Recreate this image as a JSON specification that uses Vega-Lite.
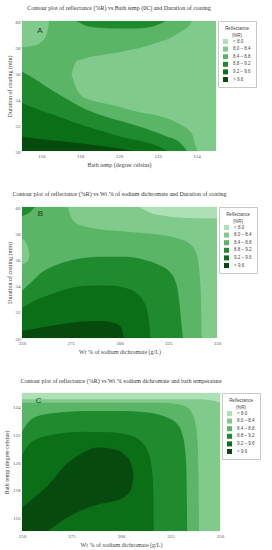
{
"$schema": "https://vega.github.io/schema/vega-lite/v6.json",
"padding": {"left": 3, "top": 4, "right": 0, "bottom": 0},
"background": "white",
"spacing": 22,
"resolve": {"scale": {"color": "independent"}, "legend": {"color": "independent"}},
"config": {
 "view": {"stroke": "#d8d8d8", "strokeWidth": 0.5},
 "axis": {"labelFont": "Liberation Serif", "labelFontSize": 5, "labelColor": "#555", "titleFont": "Liberation Serif", "titleFontSize": 6, "titleFontWeight": "normal", "titleColor": "#444", "ticks": false, "domain": false, "grid": false, "labelPadding": 2, "titlePadding": 3, "labelOverlap": false, "labelBound": false, "labelFlush": false},
 "title": {"font": "Liberation Serif", "fontSize": 6, "fontWeight": "normal", "color": "#333", "offset": 8, "anchor": "middle"},
 "legend": {"orient": "right", "offset": 2, "strokeColor": "#c8c8c8", "fillColor": "white", "padding": 5, "titleFont": "Liberation Sans", "titleFontSize": 4.5, "titleFontWeight": "normal", "titleColor": "#444", "titleAlign": "center", "titleAnchor": "middle", "titlePadding": 2, "labelFont": "Liberation Sans", "labelFontSize": 4.5, "labelColor": "#444", "symbolType": "square", "symbolSize": 25, "symbolStrokeWidth": 0, "rowPadding": 1.6, "labelOffset": 5,
  "labelExpr": "(datum.label == '< 8.0' ? '\u00a0\u00a0\u00a0\u00a0\u00a0\u00a0< 8.0' : datum.label == '> 9.6' ? '\u00a0\u00a0\u00a0\u00a0\u00a0\u00a0> 9.6' : datum.label) + '\u00a0\u00a0\u00a0\u00a0\u00a0\u00a0\u00a0'"}
},
"vconcat": [
{
 "width": 194, "height": 130,
 "title": {"text": "Contour plot of reflectance (%R) vs Bath temp (0C) and  Duration of coating"},
 "data": {"values": [
  {"r":"A0","lv":"8.4 – 8.8","x":115,"lo":50,"hi":60},{"r":"A0","lv":"8.4 – 8.8","x":125,"lo":50,"hi":60},
  {"r":"A1","lv":"8.0 – 8.4","x":117.55,"lo":55.9,"hi":55.9},{"r":"A1","lv":"8.0 – 8.4","x":117.8,"lo":54.8,"hi":56.9},{"r":"A1","lv":"8.0 – 8.4","x":118.1,"lo":54.2,"hi":57.05},{"r":"A1","lv":"8.0 – 8.4","x":118.4,"lo":54.0,"hi":57.2},{"r":"A1","lv":"8.0 – 8.4","x":118.8,"lo":53.8,"hi":57.3},{"r":"A1","lv":"8.0 – 8.4","x":119.6,"lo":53.55,"hi":57.5},{"r":"A1","lv":"8.0 – 8.4","x":120.0,"lo":53.4,"hi":57.6},{"r":"A1","lv":"8.0 – 8.4","x":121.0,"lo":53.0,"hi":57.9},{"r":"A1","lv":"8.0 – 8.4","x":122.3,"lo":52.6,"hi":58.5},{"r":"A1","lv":"8.0 – 8.4","x":122.5,"lo":52.5,"hi":58.6},{"r":"A1","lv":"8.0 – 8.4","x":123.2,"lo":52.0,"hi":59.2},{"r":"A1","lv":"8.0 – 8.4","x":123.6,"lo":51.6,"hi":59.6},{"r":"A1","lv":"8.0 – 8.4","x":123.8,"lo":51.2,"hi":60},{"r":"A1","lv":"8.0 – 8.4","x":123.9,"lo":50.6,"hi":60},{"r":"A1","lv":"8.0 – 8.4","x":124.1,"lo":50,"hi":60},{"r":"A1","lv":"8.0 – 8.4","x":125,"lo":50,"hi":60},
  {"r":"A2","lv":"8.0 – 8.4","x":115,"lo":58.0,"hi":60},{"r":"A2","lv":"8.0 – 8.4","x":115.6,"lo":58.1,"hi":60},{"r":"A2","lv":"8.0 – 8.4","x":116.0,"lo":58.4,"hi":60},{"r":"A2","lv":"8.0 – 8.4","x":116.25,"lo":58.9,"hi":60},{"r":"A2","lv":"8.0 – 8.4","x":116.35,"lo":59.5,"hi":60},{"r":"A2","lv":"8.0 – 8.4","x":116.4,"lo":60,"hi":60},
  {"r":"A3","lv":"8.8 – 9.2","x":117.8,"lo":60,"hi":60},{"r":"A3","lv":"8.8 – 9.2","x":118.2,"lo":59.7,"hi":60},{"r":"A3","lv":"8.8 – 9.2","x":118.8,"lo":59.5,"hi":60},{"r":"A3","lv":"8.8 – 9.2","x":120.0,"lo":59.42,"hi":60},{"r":"A3","lv":"8.8 – 9.2","x":121.2,"lo":59.45,"hi":60},{"r":"A3","lv":"8.8 – 9.2","x":121.9,"lo":59.65,"hi":60},{"r":"A3","lv":"8.8 – 9.2","x":122.4,"lo":60,"hi":60},
  {"r":"A4","lv":"8.8 – 9.2","x":115,"lo":50,"hi":56.1},{"r":"A4","lv":"8.8 – 9.2","x":115.5,"lo":50,"hi":55.7},{"r":"A4","lv":"8.8 – 9.2","x":116.3,"lo":50,"hi":54.9},{"r":"A4","lv":"8.8 – 9.2","x":117.3,"lo":50,"hi":54.0},{"r":"A4","lv":"8.8 – 9.2","x":118.3,"lo":50,"hi":53.2},{"r":"A4","lv":"8.8 – 9.2","x":119.2,"lo":50,"hi":52.7},{"r":"A4","lv":"8.8 – 9.2","x":120.1,"lo":50,"hi":52.3},{"r":"A4","lv":"8.8 – 9.2","x":121.0,"lo":50,"hi":51.9},{"r":"A4","lv":"8.8 – 9.2","x":121.8,"lo":50,"hi":51.5},{"r":"A4","lv":"8.8 – 9.2","x":122.5,"lo":50,"hi":51.1},{"r":"A4","lv":"8.8 – 9.2","x":123.0,"lo":50,"hi":50.8},{"r":"A4","lv":"8.8 – 9.2","x":123.3,"lo":50,"hi":50.4},{"r":"A4","lv":"8.8 – 9.2","x":123.5,"lo":50,"hi":50},
  {"r":"A5","lv":"9.2 – 9.6","x":115,"lo":50,"hi":53.7},{"r":"A5","lv":"9.2 – 9.6","x":116.0,"lo":50,"hi":53.1},{"r":"A5","lv":"9.2 – 9.6","x":116.6,"lo":50,"hi":52.8},{"r":"A5","lv":"9.2 – 9.6","x":117.5,"lo":50,"hi":52.3},{"r":"A5","lv":"9.2 – 9.6","x":118.3,"lo":50,"hi":51.9},{"r":"A5","lv":"9.2 – 9.6","x":119.2,"lo":50,"hi":51.5},{"r":"A5","lv":"9.2 – 9.6","x":120.1,"lo":50,"hi":51.1},{"r":"A5","lv":"9.2 – 9.6","x":121.0,"lo":50,"hi":50.8},{"r":"A5","lv":"9.2 – 9.6","x":121.8,"lo":50,"hi":50.5},{"r":"A5","lv":"9.2 – 9.6","x":122.2,"lo":50,"hi":50.25},{"r":"A5","lv":"9.2 – 9.6","x":122.5,"lo":50,"hi":50},
  {"r":"A6","lv":"> 9.6","x":115,"lo":50,"hi":51.1},{"r":"A6","lv":"> 9.6","x":116,"lo":50,"hi":50.9},{"r":"A6","lv":"> 9.6","x":117,"lo":50,"hi":50.75},{"r":"A6","lv":"> 9.6","x":118,"lo":50,"hi":50.6},{"r":"A6","lv":"> 9.6","x":119,"lo":50,"hi":50.4},{"r":"A6","lv":"> 9.6","x":120,"lo":50,"hi":50.2},{"r":"A6","lv":"> 9.6","x":120.8,"lo":50,"hi":50}
 ]},
 "layer": [
  {"layer": [
    {"mark": {"type": "area", "interpolate": "monotone", "clip": true}, "transform": [{"filter": {"field": "r", "oneOf": ["A0"]}}]},
    {"mark": {"type": "area", "interpolate": "monotone", "clip": true}, "transform": [{"filter": {"field": "r", "oneOf": ["A1", "A2", "A3", "A4"]}}]},
    {"mark": {"type": "area", "interpolate": "monotone", "clip": true}, "transform": [{"filter": {"field": "r", "oneOf": ["A5"]}}]},
    {"mark": {"type": "area", "interpolate": "monotone", "clip": true}, "transform": [{"filter": {"field": "r", "oneOf": ["A6"]}}]}
   ],
   "encoding": {
    "x": {"field": "x", "type": "quantitative", "title": "Bath temp (degree celsius)", "scale": {"domain": [115, 125], "nice": false, "zero": false}, "axis": {"values": [116, 118, 120, 122, 124]}},
    "y": {"field": "lo", "type": "quantitative", "title": "Duration of coating (min)", "scale": {"domain": [50, 60], "nice": false, "zero": false}, "axis": {"values": [50, 52, 54, 56, 58, 60]}},
    "y2": {"field": "hi"},
    "color": {"field": "lv", "type": "nominal", "scale": {"domain": ["< 8.0", "8.0 – 8.4", "8.4 – 8.8", "8.8 – 9.2", "9.2 – 9.6", "> 9.6"], "range": ["#ade0b5", "#80ca8b", "#5ab566", "#1f8b2e", "#0b6f17", "#064a0e"]}, "legend": {"title": ["Reflectance", "(%R)"]}},
    "detail": {"field": "r"}
   }
  },
  {"data": {"values": [{"t": "A", "x": 115.93, "y": 59.23}]},
   "mark": {"type": "text", "font": "Liberation Sans", "fontSize": 8, "color": "#333"},
   "encoding": {
    "x": {"field": "x", "type": "quantitative", "title": "Bath temp (degree celsius)", "scale": {"domain": [115, 125], "nice": false, "zero": false}, "axis": {"values": [116, 118, 120, 122, 124]}},
    "y": {"field": "y", "type": "quantitative", "title": "Duration of coating (min)", "scale": {"domain": [50, 60], "nice": false, "zero": false}, "axis": {"values": [50, 52, 54, 56, 58, 60]}},
    "text": {"field": "t"}
   }
  }
 ]
},
{
 "width": 195, "height": 131,
 "title": {"text": "Contour plot of reflectance (%R) vs Wt % of sodium dichromate and  Duration of coating"},
 "data": {"values": [
  {"r":"B0","lv":"8.4 – 8.8","x":250,"lo":50,"hi":60},{"r":"B0","lv":"8.4 – 8.8","x":350,"lo":50,"hi":60},
  {"r":"B1","lv":"8.0 – 8.4","x":273.5,"lo":60,"hi":60},{"r":"B1","lv":"8.0 – 8.4","x":274.5,"lo":59.5,"hi":60},{"r":"B1","lv":"8.0 – 8.4","x":276,"lo":59,"hi":60},{"r":"B1","lv":"8.0 – 8.4","x":280,"lo":58.6,"hi":60},{"r":"B1","lv":"8.0 – 8.4","x":290,"lo":58.3,"hi":60},{"r":"B1","lv":"8.0 – 8.4","x":305,"lo":58.1,"hi":60},{"r":"B1","lv":"8.0 – 8.4","x":320,"lo":57.9,"hi":60},{"r":"B1","lv":"8.0 – 8.4","x":330,"lo":57.6,"hi":60},{"r":"B1","lv":"8.0 – 8.4","x":336,"lo":57.2,"hi":60},{"r":"B1","lv":"8.0 – 8.4","x":339,"lo":56.6,"hi":60},{"r":"B1","lv":"8.0 – 8.4","x":340.2,"lo":56.0,"hi":60},{"r":"B1","lv":"8.0 – 8.4","x":341,"lo":55,"hi":60},{"r":"B1","lv":"8.0 – 8.4","x":341.8,"lo":53,"hi":60},{"r":"B1","lv":"8.0 – 8.4","x":342.3,"lo":50,"hi":60},{"r":"B1","lv":"8.0 – 8.4","x":350,"lo":50,"hi":60},
  {"r":"B2","lv":"8.0 – 8.4","x":250,"lo":55.6,"hi":57.6},{"r":"B2","lv":"8.0 – 8.4","x":251.5,"lo":55.7,"hi":57.4},{"r":"B2","lv":"8.0 – 8.4","x":252.5,"lo":55.8,"hi":57.15},{"r":"B2","lv":"8.0 – 8.4","x":253.3,"lo":56.0,"hi":56.8},{"r":"B2","lv":"8.0 – 8.4","x":253.8,"lo":56.4,"hi":56.4},
  {"r":"B3","lv":"< 8.0","x":310,"lo":60,"hi":60},{"r":"B3","lv":"< 8.0","x":315,"lo":59.6,"hi":60},{"r":"B3","lv":"< 8.0","x":322,"lo":59.35,"hi":60},{"r":"B3","lv":"< 8.0","x":330,"lo":59.2,"hi":60},{"r":"B3","lv":"< 8.0","x":340,"lo":59.15,"hi":60},{"r":"B3","lv":"< 8.0","x":350,"lo":59.15,"hi":60},
  {"r":"B4","lv":"8.8 – 9.2","x":250,"lo":59.3,"hi":60},{"r":"B4","lv":"8.8 – 9.2","x":252,"lo":59.4,"hi":60},{"r":"B4","lv":"8.8 – 9.2","x":254,"lo":59.6,"hi":60},{"r":"B4","lv":"8.8 – 9.2","x":255.5,"lo":59.8,"hi":60},{"r":"B4","lv":"8.8 – 9.2","x":256.5,"lo":60,"hi":60},
  {"r":"B5","lv":"8.8 – 9.2","x":250,"lo":50,"hi":53.6},{"r":"B5","lv":"8.8 – 9.2","x":255,"lo":50,"hi":54.3},{"r":"B5","lv":"8.8 – 9.2","x":260,"lo":50,"hi":55.0},{"r":"B5","lv":"8.8 – 9.2","x":268,"lo":50,"hi":55.6},{"r":"B5","lv":"8.8 – 9.2","x":277,"lo":50,"hi":56.0},{"r":"B5","lv":"8.8 – 9.2","x":290,"lo":50,"hi":56.2},{"r":"B5","lv":"8.8 – 9.2","x":303,"lo":50,"hi":56.2},{"r":"B5","lv":"8.8 – 9.2","x":312,"lo":50,"hi":56.0},{"r":"B5","lv":"8.8 – 9.2","x":320,"lo":50,"hi":55.6},{"r":"B5","lv":"8.8 – 9.2","x":326,"lo":50,"hi":55.0},{"r":"B5","lv":"8.8 – 9.2","x":329,"lo":50,"hi":54.2},{"r":"B5","lv":"8.8 – 9.2","x":330.5,"lo":50,"hi":53},{"r":"B5","lv":"8.8 – 9.2","x":331.5,"lo":50,"hi":51.5},{"r":"B5","lv":"8.8 – 9.2","x":332.5,"lo":50,"hi":50},
  {"r":"B6","lv":"9.2 – 9.6","x":250,"lo":50,"hi":52.3},{"r":"B6","lv":"9.2 – 9.6","x":256,"lo":50,"hi":52.8},{"r":"B6","lv":"9.2 – 9.6","x":266,"lo":50,"hi":53.4},{"r":"B6","lv":"9.2 – 9.6","x":276,"lo":50,"hi":53.85},{"r":"B6","lv":"9.2 – 9.6","x":285,"lo":50,"hi":54.0},{"r":"B6","lv":"9.2 – 9.6","x":295,"lo":50,"hi":54.0},{"r":"B6","lv":"9.2 – 9.6","x":302,"lo":50,"hi":53.85},{"r":"B6","lv":"9.2 – 9.6","x":308,"lo":50,"hi":53.5},{"r":"B6","lv":"9.2 – 9.6","x":312,"lo":50,"hi":52.9},{"r":"B6","lv":"9.2 – 9.6","x":314,"lo":50,"hi":52.2},{"r":"B6","lv":"9.2 – 9.6","x":315.2,"lo":50,"hi":51.2},{"r":"B6","lv":"9.2 – 9.6","x":315.8,"lo":50,"hi":50},
  {"r":"B7","lv":"> 9.6","x":250,"lo":50,"hi":50.55},{"r":"B7","lv":"> 9.6","x":260,"lo":50,"hi":50.8},{"r":"B7","lv":"> 9.6","x":270,"lo":50,"hi":51.05},{"r":"B7","lv":"> 9.6","x":280,"lo":50,"hi":51.25},{"r":"B7","lv":"> 9.6","x":290,"lo":50,"hi":51.3},{"r":"B7","lv":"> 9.6","x":296,"lo":50,"hi":51.2},{"r":"B7","lv":"> 9.6","x":300,"lo":50,"hi":50.95},{"r":"B7","lv":"> 9.6","x":301.5,"lo":50,"hi":50.5},{"r":"B7","lv":"> 9.6","x":302.2,"lo":50,"hi":50}
 ]},
 "layer": [
  {"layer": [
    {"mark": {"type": "area", "interpolate": "monotone", "clip": true}, "transform": [{"filter": {"field": "r", "oneOf": ["B0"]}}]},
    {"mark": {"type": "area", "interpolate": "monotone", "clip": true}, "transform": [{"filter": {"field": "r", "oneOf": ["B1", "B2", "B4", "B5"]}}]},
    {"mark": {"type": "area", "interpolate": "monotone", "clip": true}, "transform": [{"filter": {"field": "r", "oneOf": ["B3", "B6"]}}]},
    {"mark": {"type": "area", "interpolate": "monotone", "clip": true}, "transform": [{"filter": {"field": "r", "oneOf": ["B7"]}}]}
   ],
   "encoding": {
    "x": {"field": "x", "type": "quantitative", "title": "Wt % of sodium dichromate (g/L)", "scale": {"domain": [250, 350], "nice": false, "zero": false}, "axis": {"values": [250, 275, 300, 325, 350]}},
    "y": {"field": "lo", "type": "quantitative", "title": "Duration of coating (min)", "scale": {"domain": [50, 60], "nice": false, "zero": false}, "axis": {"values": [50, 52, 54, 56, 58, 60]}},
    "y2": {"field": "hi"},
    "color": {"field": "lv", "type": "nominal", "scale": {"domain": ["< 8.0", "8.0 – 8.4", "8.4 – 8.8", "8.8 – 9.2", "9.2 – 9.6", "> 9.6"], "range": ["#ade0b5", "#80ca8b", "#5ab566", "#1f8b2e", "#0b6f17", "#064a0e"]}, "legend": {"title": ["Reflectance", "(%R)"]}},
    "detail": {"field": "r"}
   }
  },
  {"data": {"values": [{"t": "B", "x": 259.4, "y": 59.5}]},
   "mark": {"type": "text", "font": "Liberation Sans", "fontSize": 8, "color": "#333"},
   "encoding": {
    "x": {"field": "x", "type": "quantitative", "title": "Wt % of sodium dichromate (g/L)", "scale": {"domain": [250, 350], "nice": false, "zero": false}, "axis": {"values": [250, 275, 300, 325, 350]}},
    "y": {"field": "y", "type": "quantitative", "title": "Duration of coating (min)", "scale": {"domain": [50, 60], "nice": false, "zero": false}, "axis": {"values": [50, 52, 54, 56, 58, 60]}},
    "text": {"field": "t"}
   }
  }
 ]
},
{
 "width": 198, "height": 138,
 "title": {"text": "Contour plot of reflectance (%R) vs Wt % sodium dichromate and bath temperature", "offset": 9},
 "data": {"values": [
  {"r":"C0","lv":"8.0 – 8.4","x":250,"lo":115,"hi":125},{"r":"C0","lv":"8.0 – 8.4","x":350,"lo":115,"hi":125},
  {"r":"C1","lv":"< 8.0","x":250,"lo":124.55,"hi":125},{"r":"C1","lv":"< 8.0","x":340,"lo":124.55,"hi":125},{"r":"C1","lv":"< 8.0","x":346,"lo":124.45,"hi":125},{"r":"C1","lv":"< 8.0","x":350,"lo":124.3,"hi":125},
  {"r":"C2","lv":"8.4 – 8.8","x":250,"lo":115,"hi":124.3},{"r":"C2","lv":"8.4 – 8.8","x":320,"lo":115,"hi":124.3},{"r":"C2","lv":"8.4 – 8.8","x":328,"lo":115,"hi":124.2},{"r":"C2","lv":"8.4 – 8.8","x":333,"lo":115,"hi":124.0},{"r":"C2","lv":"8.4 – 8.8","x":336,"lo":115,"hi":123.5},{"r":"C2","lv":"8.4 – 8.8","x":338,"lo":115,"hi":122.5},{"r":"C2","lv":"8.4 – 8.8","x":338.8,"lo":115,"hi":121},{"r":"C2","lv":"8.4 – 8.8","x":339.2,"lo":115,"hi":118},{"r":"C2","lv":"8.4 – 8.8","x":339.4,"lo":115,"hi":115},
  {"r":"C3","lv":"8.8 – 9.2","x":250,"lo":115,"hi":122.2},{"r":"C3","lv":"8.8 – 9.2","x":254,"lo":115,"hi":123.0},{"r":"C3","lv":"8.8 – 9.2","x":260,"lo":115,"hi":123.4},{"r":"C3","lv":"8.8 – 9.2","x":270,"lo":115,"hi":123.6},{"r":"C3","lv":"8.8 – 9.2","x":285,"lo":115,"hi":123.7},{"r":"C3","lv":"8.8 – 9.2","x":300,"lo":115,"hi":123.7},{"r":"C3","lv":"8.8 – 9.2","x":312,"lo":115,"hi":123.6},{"r":"C3","lv":"8.8 – 9.2","x":322,"lo":115,"hi":123.3},{"r":"C3","lv":"8.8 – 9.2","x":328,"lo":115,"hi":122.8},{"r":"C3","lv":"8.8 – 9.2","x":331,"lo":115,"hi":122.0},{"r":"C3","lv":"8.8 – 9.2","x":332.3,"lo":115,"hi":121.0},{"r":"C3","lv":"8.8 – 9.2","x":333,"lo":115,"hi":119.5},{"r":"C3","lv":"8.8 – 9.2","x":333.3,"lo":115,"hi":117},{"r":"C3","lv":"8.8 – 9.2","x":333.4,"lo":115,"hi":115},
  {"r":"C4","lv":"9.2 – 9.6","x":250,"lo":115,"hi":120.5},{"r":"C4","lv":"9.2 – 9.6","x":253,"lo":115,"hi":121.2},{"r":"C4","lv":"9.2 – 9.6","x":258,"lo":115,"hi":121.7},{"r":"C4","lv":"9.2 – 9.6","x":266,"lo":115,"hi":122.0},{"r":"C4","lv":"9.2 – 9.6","x":280,"lo":115,"hi":122.2},{"r":"C4","lv":"9.2 – 9.6","x":295,"lo":115,"hi":122.15},{"r":"C4","lv":"9.2 – 9.6","x":305,"lo":115,"hi":121.9},{"r":"C4","lv":"9.2 – 9.6","x":310,"lo":115,"hi":121.5},{"r":"C4","lv":"9.2 – 9.6","x":313.5,"lo":115,"hi":120.8},{"r":"C4","lv":"9.2 – 9.6","x":315.3,"lo":115,"hi":119.8},{"r":"C4","lv":"9.2 – 9.6","x":316.2,"lo":115,"hi":118.5},{"r":"C4","lv":"9.2 – 9.6","x":316.4,"lo":115,"hi":117},{"r":"C4","lv":"9.2 – 9.6","x":316.5,"lo":115,"hi":115},
  {"r":"C5","lv":"> 9.6","x":250,"lo":115,"hi":116.7},{"r":"C5","lv":"> 9.6","x":255,"lo":115,"hi":117.3},{"r":"C5","lv":"> 9.6","x":263,"lo":115,"hi":118.3},{"r":"C5","lv":"> 9.6","x":265,"lo":115.2,"hi":118.6},{"r":"C5","lv":"> 9.6","x":272,"lo":115.9,"hi":119.8},{"r":"C5","lv":"> 9.6","x":280,"lo":116.5,"hi":120.6},{"r":"C5","lv":"> 9.6","x":288,"lo":116.9,"hi":121.05},{"r":"C5","lv":"> 9.6","x":296,"lo":117.15,"hi":120.95},{"r":"C5","lv":"> 9.6","x":302,"lo":117.5,"hi":120.5},{"r":"C5","lv":"> 9.6","x":305,"lo":118.0,"hi":119.9},{"r":"C5","lv":"> 9.6","x":306.3,"lo":118.9,"hi":119.2},{"r":"C5","lv":"> 9.6","x":306.5,"lo":119.05,"hi":119.05}
 ]},
 "layer": [
  {"layer": [
    {"mark": {"type": "area", "interpolate": "monotone", "clip": true}, "transform": [{"filter": {"field": "r", "oneOf": ["C0"]}}]},
    {"mark": {"type": "area", "interpolate": "monotone", "clip": true}, "transform": [{"filter": {"field": "r", "oneOf": ["C1", "C2"]}}]},
    {"mark": {"type": "area", "interpolate": "monotone", "clip": true}, "transform": [{"filter": {"field": "r", "oneOf": ["C3"]}}]},
    {"mark": {"type": "area", "interpolate": "monotone", "clip": true}, "transform": [{"filter": {"field": "r", "oneOf": ["C4"]}}]},
    {"mark": {"type": "area", "interpolate": "monotone", "clip": true}, "transform": [{"filter": {"field": "r", "oneOf": ["C5"]}}]}
   ],
   "encoding": {
    "x": {"field": "x", "type": "quantitative", "title": "Wt %  of sodium dichromate (g/L)", "scale": {"domain": [250, 350], "nice": false, "zero": false}, "axis": {"values": [250, 275, 300, 325, 350]}},
    "y": {"field": "lo", "type": "quantitative", "title": "Bath temp (degree celsius)", "scale": {"domain": [115, 125], "nice": false, "zero": false}, "axis": {"values": [116, 118, 120, 122, 124]}},
    "y2": {"field": "hi"},
    "color": {"field": "lv", "type": "nominal", "scale": {"domain": ["< 8.0", "8.0 – 8.4", "8.4 – 8.8", "8.8 – 9.2", "9.2 – 9.6", "> 9.6"], "range": ["#ade0b5", "#80ca8b", "#5ab566", "#1f8b2e", "#0b6f17", "#064a0e"]}, "legend": {"title": ["Reflectance", "(%R)"]}},
    "detail": {"field": "r"}
   }
  },
  {"data": {"values": [{"t": "C", "x": 258.4, "y": 124.4}]},
   "mark": {"type": "text", "font": "Liberation Sans", "fontSize": 8, "color": "#333"},
   "encoding": {
    "x": {"field": "x", "type": "quantitative", "title": "Wt %  of sodium dichromate (g/L)", "scale": {"domain": [250, 350], "nice": false, "zero": false}, "axis": {"values": [250, 275, 300, 325, 350]}},
    "y": {"field": "y", "type": "quantitative", "title": "Bath temp (degree celsius)", "scale": {"domain": [115, 125], "nice": false, "zero": false}, "axis": {"values": [116, 118, 120, 122, 124]}},
    "text": {"field": "t"}
   }
  }
 ]
}
]
}
